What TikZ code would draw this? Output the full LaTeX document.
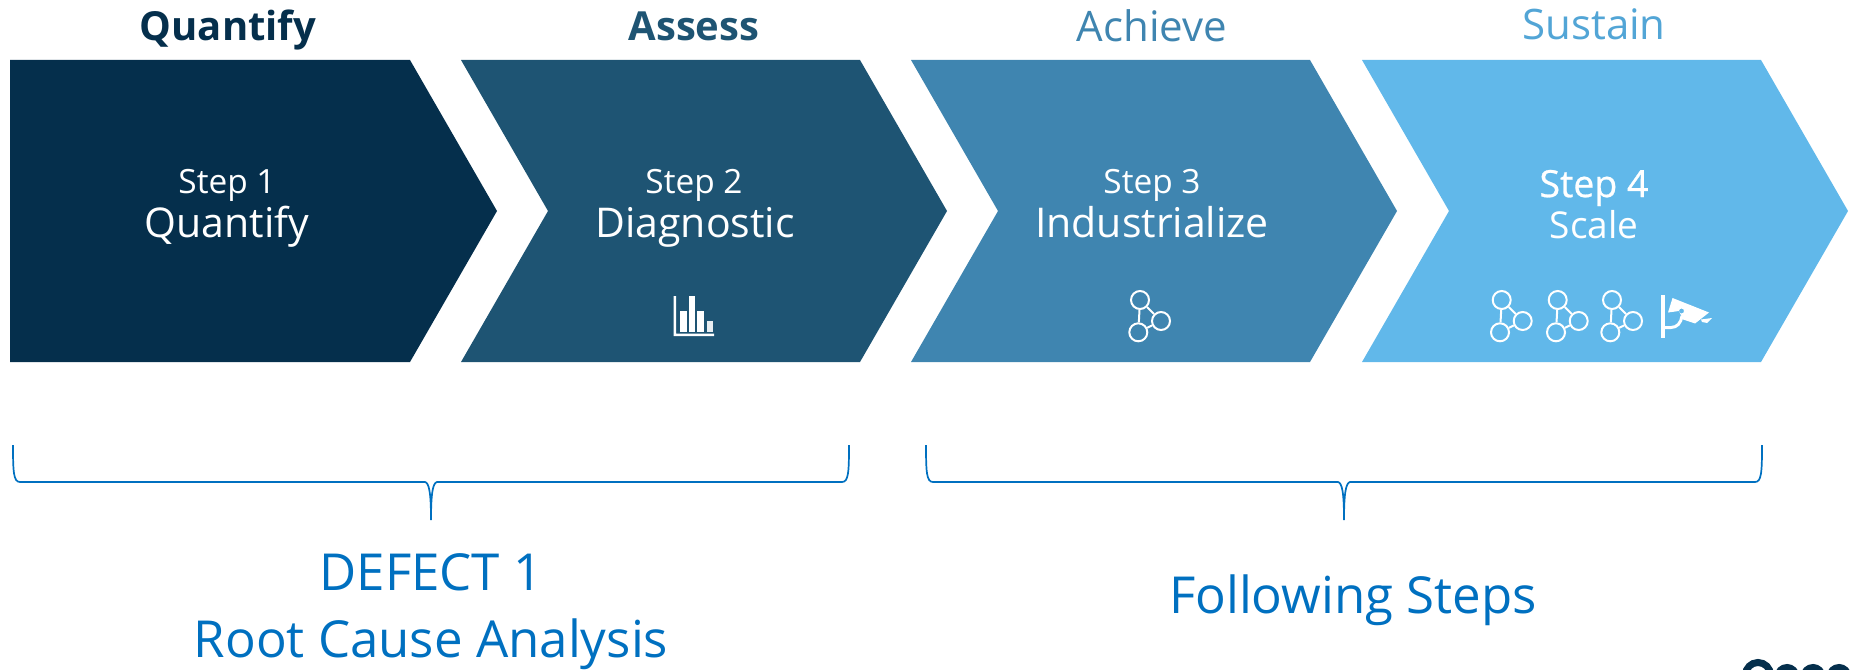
\documentclass[tikz,border=0pt]{standalone}
\usepackage{fontspec}
\setmainfont{Open Sans}
\newfontface\halbfett[FakeBold=0.7]{Open Sans}
\usetikzlibrary{positioning}
\definecolor{stepA}{HTML}{052F4C}
\definecolor{stepB}{HTML}{1E5473}
\definecolor{stepC}{HTML}{3F85B0}
\definecolor{stepD}{HTML}{61B8EA}
\definecolor{sustainC}{HTML}{52A5D6}
\definecolor{noteC}{HTML}{0070C0}
\newcommand{\fsz}[1]{\fontsize{#1}{#1}\selectfont}
\tikzset{
  Kopf/.style={font=\fsz{42}, inner sep=0pt},% Titel ueber den Pfeilen
  Schritt/.style={font=\fsz{33.4}, text=white, inner sep=0pt},
  Name/.style={font=\fsz{41}, text=white, inner sep=0pt},
  Notiz/.style={font=\fsz{51}, text=noteC, inner sep=0pt},
  Klammer/.style={draw=noteC, line width=1.7pt},
  Ring/.style={circle, draw=white, line width=2pt, minimum size=18pt, inner sep=0pt},
  netz/.pic={
    \node[Ring] (-a) at (0,0) {};
    \node[Ring] (-b) at (21,21) {};
    \node[Ring] (-c) at (-1.7,32.3) {};
    \draw[white, line width=2pt] (-a) -- (-b) (-b) -- (-c) (-c) -- (-a);
  }
}
\begin{document}
\begin{tikzpicture}[x=1pt, y=-1pt]
\useasboundingbox (0,0) rectangle (1851,669);

%Pfeile
\fill[stepA] (10,60) -- (410,60) -- (497,211) -- (410,362) -- (10,362) -- cycle;
\foreach \x/\farbe in {461/stepB, 911/stepC, 1362/stepD}
  \fill[\farbe] (\x,60) -- (\x+399,60) -- (\x+486,211) -- (\x+399,362) -- (\x,362) -- (\x+87,211) -- cycle;

%Titel
\node[Kopf, text=stepA, font=\fsz{40}\bfseries] (T1) at (228,30) {Quantify};
\node[Kopf, text=stepB, font=\fsz{40}\bfseries] (T2) at (694,26) {Assess};
\node[Kopf, text=stepC] (T3) at (1152,26) {Achieve};
\node[Kopf, text=sustainC] (T4) at (1594,24) {Sustain};

%Schritte
\node[Schritt] (S1) at (227,185) {Step 1};
\node[Name] (N1) at (227,227) {Quantify};
\node[Schritt] (S2) at (694,185) {Step 2};
\node[Name] (N2) at (695,227) {Diagnostic};
\node[Schritt] (S3) at (1152,185) {Step 3};
\node[Name] (N3) at (1152,222) {Industrialize};
\node[Schritt, font=\fsz{37.5}\halbfett] (S4) at (1594,188) {Step 4};
\node[Schritt, font=\fsz{37}] (N4) at (1594,225) {Scale};

%Balken
\fill[white] (673.5,296) rectangle (676,336) (673.5,333.5) rectangle (714,336);
\fill[white] (680,311) rectangle (687,332);
\fill[white] (689,296) rectangle (695,332);
\fill[white] (697,311) rectangle (704,332);
\fill[white!90!stepB] (707,321) rectangle (713,332);

%Netze
\pic (A) at (1140,300) {netz};
\pic (B) at (1501.7,300) {netz};
\pic (C) at (1557.7,300) {netz};
\pic (D) at (1612,300) {netz};

%Kamera
\fill[white] (1660.5,295) rectangle (1664.5,338);
\draw[white, line width=3pt] (1662,327.5) -- (1671,327.5) .. controls (1677,327.5) and (1681,323) .. (1682,316);
\fill[white, even odd rule] (1672.5,298) -- (1709,312.5) -- (1695,323.5) -- (1683,319.5) -- (1679,311) -- (1668,312.5) -- cycle
  (1681.5,311) circle (2.5);
\fill[white] (1701,319.5) -- (1712,318) -- (1707,323) -- (1702,322) -- cycle;

%Klammern
\coordinate (K1a) at (13,445);
\coordinate (K1m) at (431,520);
\coordinate (K1b) at (849,445);
\coordinate (K2a) at (926,445);
\coordinate (K2m) at (1344,520);
\coordinate (K2b) at (1762,445);
\foreach \a/\m/\b in {K1a/K1m/K1b, K2a/K2m/K2b}
  \draw[Klammer] (\a) .. controls ([yshift=-27pt]\a) and ([xshift=0.5pt,yshift=-37pt]\a) .. ([xshift=7pt,yshift=-37pt]\a)
    -- ([xshift=-6pt,yshift=38pt]\m) .. controls ([xshift=-2pt,yshift=37pt]\m) and ([yshift=28pt]\m) .. (\m)
    .. controls ([yshift=28pt]\m) and ([xshift=2pt,yshift=37pt]\m) .. ([xshift=6pt,yshift=38pt]\m)
    -- ([xshift=-7pt,yshift=-37pt]\b) .. controls ([xshift=-0.5pt,yshift=-37pt]\b) and ([yshift=-27pt]\b) .. (\b);

%Notizen
\node[Notiz] (D1) at (431,572) {DEFECT 1};
\node[Notiz] (D2) at (431,644) {Root Cause Analysis};
\node[Notiz] (F1) at (1353,600) {Following Steps};

%Logo unten rechts
\draw[stepA, line width=7pt] (1758,675) circle (12.5);
\draw[stepA, line width=6pt] (1787,676.5) circle (9.5);
\draw[stepA, line width=6pt] (1813,676.5) circle (9.5);
\draw[stepA, line width=6pt] (1839,676.5) circle (9.5);
\end{tikzpicture}
\end{document}
